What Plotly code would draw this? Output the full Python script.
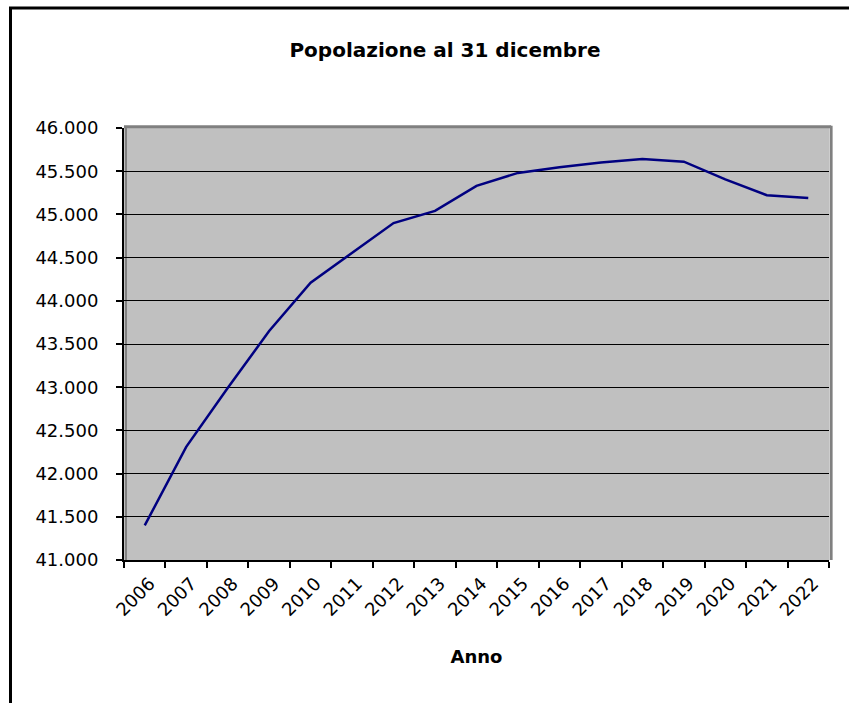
import plotly.graph_objects as go

anni = ["2006", "2007", "2008", "2009", "2010", "2011", "2012", "2013", "2014",
        "2015", "2016", "2017", "2018", "2019", "2020", "2021", "2022"]
popolazione = [41400, 42310, 42990, 43650, 44210, 44550, 44900, 45040, 45330,
               45480, 45545, 45600, 45640, 45610, 45405, 45222, 45190]

y_ticks = [41000, 41500, 42000, 42500, 43000, 43500, 44000, 44500, 45000, 45500, 46000]
y_tick_text = ["41.000", "41.500", "42.000", "42.500", "43.000", "43.500",
               "44.000", "44.500", "45.000", "45.500", "46.000"]
thick_grid = [41500, 43000, 44000, 45000]

FONT = "DejaVu Sans, Liberation Sans, Arial, sans-serif"

fig = go.Figure()
fig.add_trace(go.Scatter(x=anni, y=popolazione, mode="lines",
                         line=dict(color="#000080", width=2.5),
                         showlegend=False, hoverinfo="x+y"))

# plot-area geometry in pixels
W, H = 849, 703
L, R, T, B = 124, 829, 128, 560


def px(x):
    return (x - L) / (R - L)


def py(y):
    return (B - y) / (B - T)


fig.update_layout(
    width=W, height=H,
    margin=dict(l=L, r=W - R, t=T, b=H - B, autoexpand=False),
    paper_bgcolor="white",
    plot_bgcolor="#C0C0C0",
    font=dict(family=FONT, color="black", size=17),
    title=dict(text="<b>Popolazione al 31 dicembre</b>", x=445 / W, xref="container",
               xanchor="center", y=1 - 50 / H, yref="container", yanchor="middle",
               font=dict(size=20, family=FONT, color="black")),
    xaxis=dict(
        type="category", tickson="boundaries", ticks="outside", ticklen=6,
        tickwidth=1.5, tickcolor="black", tickangle=-45,
        ticklabelstandoff=4, ticklabelshift=5,
        showline=True, linecolor="black", linewidth=2, showgrid=False,
        tickfont=dict(size=18, family=FONT),
        title=dict(text="<b>Anno</b>", standoff=31, font=dict(size=18, family=FONT)),
        range=[-0.5, len(anni) - 0.5], zeroline=False,
    ),
    yaxis=dict(
        range=[41000, 46000], tickvals=y_ticks, ticktext=y_tick_text,
        ticks="outside", ticklen=6, tickwidth=1.5, tickcolor="black",
        ticklabelstandoff=14,
        showline=True, linecolor="black", linewidth=2,
        showgrid=True, gridcolor="black", gridwidth=1, zeroline=False,
        tickfont=dict(size=18, family=FONT),
    ),
    yaxis2=dict(
        range=[41000, 46000], overlaying="y", side="left", tickvals=thick_grid,
        showticklabels=False, showgrid=True, gridcolor="black", gridwidth=2,
        zeroline=False, showline=False, ticks="",
    ),
)

shapes = [
    # gray plot-area border (top, right, inner left)
    dict(type="line", xref="paper", yref="paper", x0=0, x1=1.003, y0=1.003, y1=1.003,
         line=dict(color="#808080", width=3)),
    dict(type="line", xref="paper", yref="paper", x0=1.003, x1=1.003, y0=0, y1=1.005,
         line=dict(color="#808080", width=3)),
    dict(type="line", xref="paper", yref="paper", x0=px(126), x1=px(126), y0=0, y1=1,
         line=dict(color="#808080", width=2), layer="below"),
    # outer chart frame (top and left)
    dict(type="line", xref="paper", yref="paper", x0=px(9), x1=px(851), y0=py(8), y1=py(8),
         line=dict(color="black", width=3)),
    dict(type="line", xref="paper", yref="paper", x0=px(10.5), x1=px(10.5), y0=py(7), y1=py(705),
         line=dict(color="black", width=3)),
]
fig.update_layout(shapes=shapes)

fig.write_html("out.html", config={"displayModeBar": False},
               post_script="document.body.style.margin='0';document.body.style.overflow='hidden';")
